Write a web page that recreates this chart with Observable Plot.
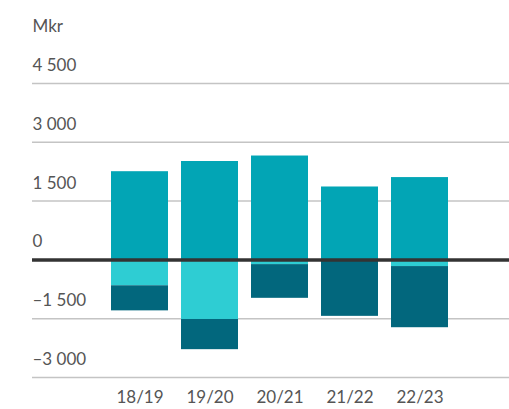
<!DOCTYPE html>
<html>
<head>
<meta charset="utf-8">
<script src="https://cdn.jsdelivr.net/npm/d3@7"></script>
<script src="https://cdn.jsdelivr.net/npm/@observablehq/plot@0.6"></script>
<style>
  html, body { margin: 0; padding: 0; background: #fff; }
  #chart svg { display: block; }
</style>
</head>
<body>
<div id="chart"></div>
<script>
const years = ["18/19", "19/20", "20/21", "21/22", "22/23"];
const seriesNames = ["Positiv", "Negativ A", "Negativ B"];
const positive = [2250, 2510, 2650, 1860, 2100];
const negativeA = [-660, -1520, -120, 0, -170];
const negativeB = [-640, -770, -860, -1440, -1560];
const yTicks = [-3000, -1500, 0, 1500, 3000, 4500];
const unitLabel = "Mkr";

const colors = ["#02a5b5", "#2ecdd3", "#02677d"];

const rows = [];
[positive, negativeA, negativeB].forEach((vals, si) => {
  vals.forEach((v, i) => rows.push({year: years[i], series: seriesNames[si], value: v}));
});

const fmt = v => {
  const s = Math.abs(v).toLocaleString("en-US").replace(/,/g, " ");
  return (v < 0 ? "\u2013" : "") + s;
};

const font = "Lato, 'Open Sans', sans-serif";

const chart = Plot.plot({
  width: 509,
  height: 409,
  marginLeft: 32,
  marginRight: 0,
  marginTop: 83,
  marginBottom: 32,
  style: {fontFamily: font, fontSize: "17px", color: "#555", background: "#fff"},
  x: {type: "band", domain: years, range: [103.3, 455.7], paddingInner: 0.19, paddingOuter: 0.095, axis: null},
  y: {domain: [-3000, 4500], axis: null},
  color: {domain: seriesNames, range: colors},
  marks: [
    Plot.ruleY(yTicks.filter(d => d !== 0), {stroke: "#c4c4c4", strokeWidth: 1.5}),
    Plot.barY(rows, {x: "year", y: "value", fill: "series", order: seriesNames}),
    Plot.ruleY([0], {stroke: "#333", strokeWidth: 3.5}),
    Plot.text(yTicks, {y: d => d, text: fmt, frameAnchor: "left", textAnchor: "start", dy: -18, fill: "#555", fontSize: 17}),
    Plot.text(years, {x: d => d, text: d => d, frameAnchor: "bottom", dy: 25, fill: "#555", fontSize: 17}),
    Plot.text([unitLabel], {text: d => d, frameAnchor: "top-left", textAnchor: "start", dy: -64, fill: "#555", fontSize: 17})
  ]
});
document.getElementById("chart").appendChild(chart);
</script>
</body>
</html>
